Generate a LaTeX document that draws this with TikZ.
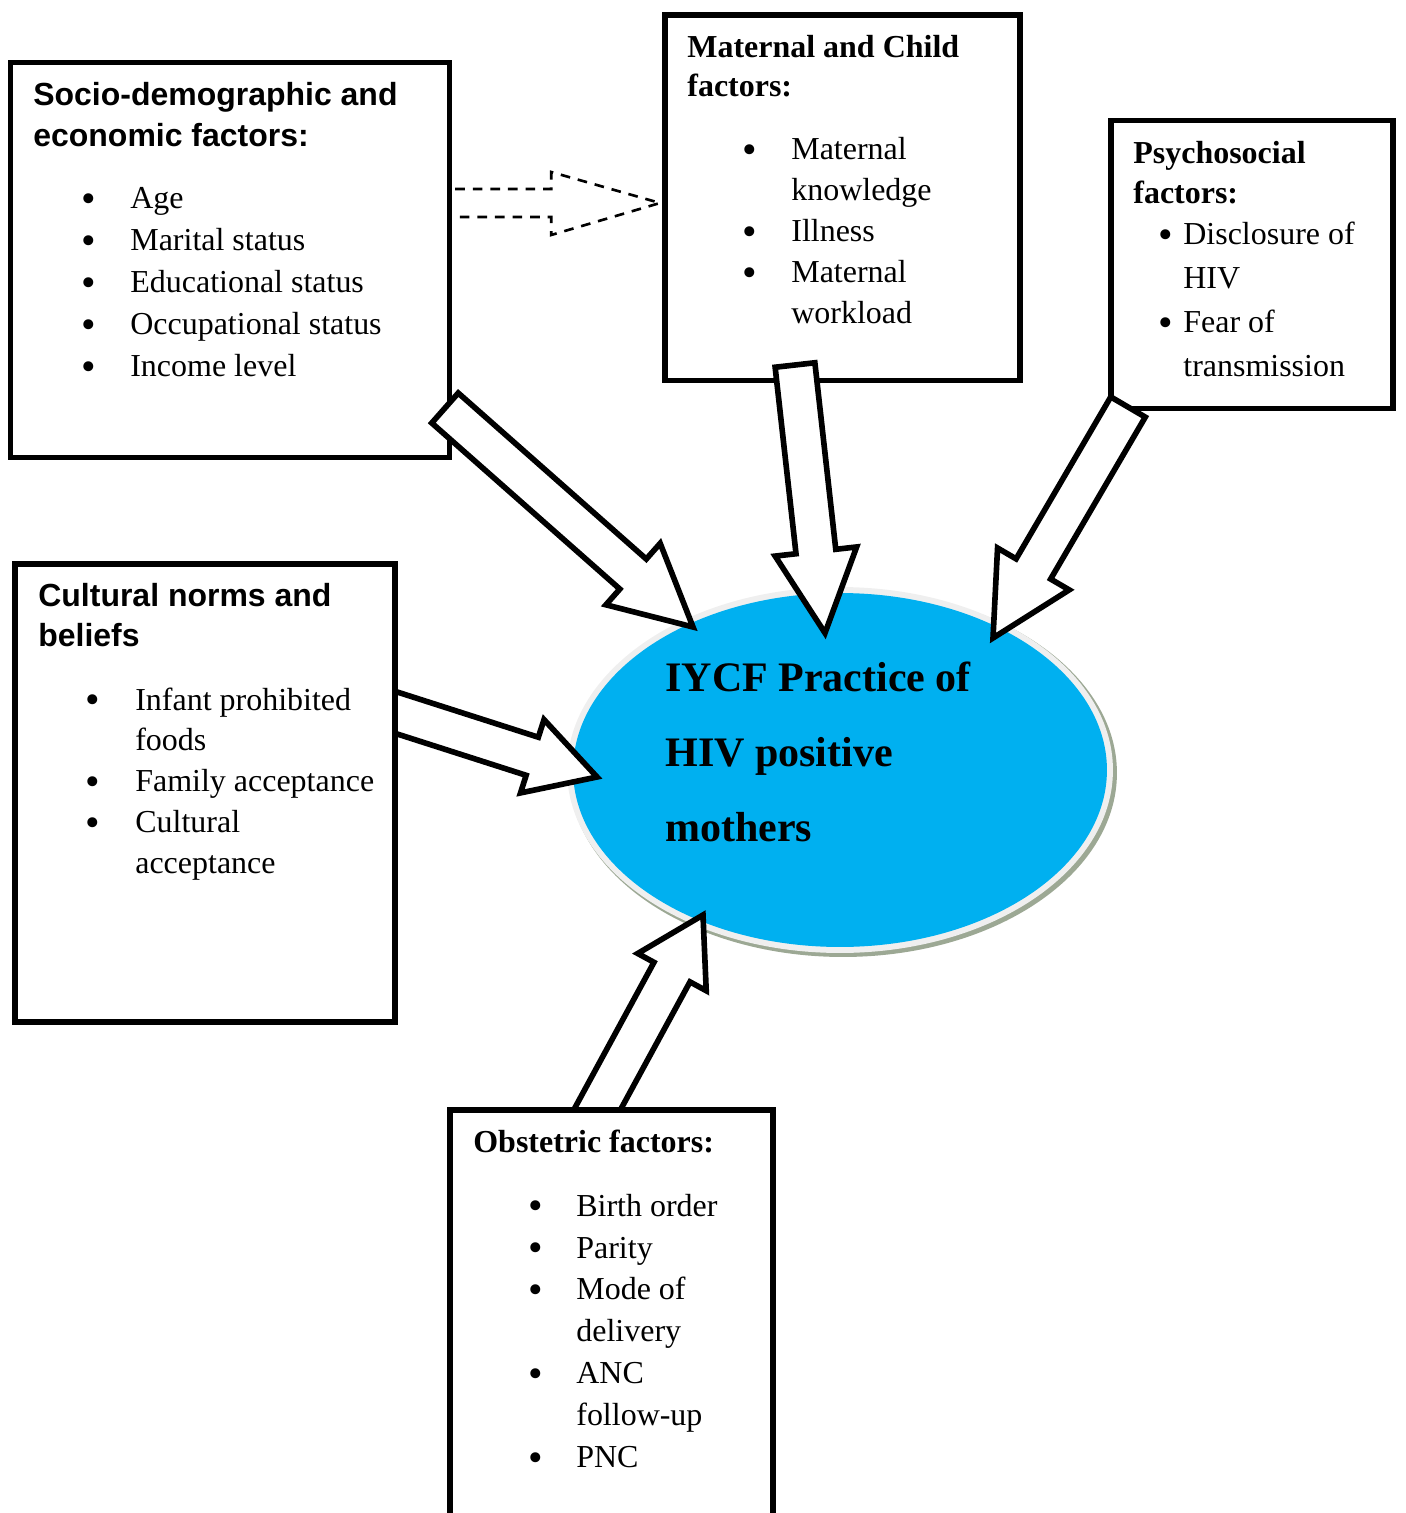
\documentclass[tikz,border=0pt]{standalone}
\usepackage{fontspec}
\setmainfont{Liberation Serif}
\setsansfont{Liberation Sans}
\usepackage{tikz}
\usetikzlibrary{calc, fit, positioning, shapes.geometric}

\definecolor{iycfblue}{HTML}{00B0F0}
\definecolor{rimgrey}{HTML}{EFEFEF}
\definecolor{rimshadow}{HTML}{9CA894}

\newcommand{\bul}{\raisebox{-0.12em}{\scalebox{1.3}{\textbullet}}}
\newcommand{\itm}[1]{\bul & #1\\}
\newcommand{\cnt}[1]{& #1\\}
\newcommand{\titlelines}[1]{\begin{tabular}[t]{@{}l@{}}#1\end{tabular}}
\newcommand{\factorlist}[2]{\begin{tabular}[t]{@{}p{#1}@{}l@{}}#2\end{tabular}}
\newcommand{\blockarrow}[5]{%
  \coordinate (hb) at ($(#2)!#5!(#1)$);
  \draw[block arrow] ($(#1)!#3!90:(#2)$) -- ($(hb)!#3!-90:(#1)$) -- ($(hb)!#4!-90:(#1)$) -- (#2)
    -- ($(hb)!#4!90:(#1)$) -- ($(hb)!#3!90:(#1)$) -- ($(#1)!#3!-90:(#2)$) -- cycle;}

\begin{document}
\begin{tikzpicture}[x=0.02cm, y=-0.02cm,
    factor box/.style={draw, line width=3.1pt, fill=white, inner sep=0pt},
    block arrow/.style={draw, line width=3.2pt, fill=white, miter limit=10},
    dash arrow/.style={draw, line width=1.5pt, dash pattern=on 5.5pt off 4.5pt},
    sans title/.style={inner sep=0pt, anchor=base west, font=\sffamily\bfseries\fontsize{18.2}{22.8}\selectfont},
    serif title/.style={inner sep=0pt, anchor=base west, font=\bfseries\fontsize{18.2}{22.2}\selectfont},
    list text/.style={inner sep=0pt, anchor=base west, font=\fontsize{18.2}{#1}\selectfont},
    list text/.default=23.9pt,
    core/.style={ellipse, inner sep=0pt}]

  \useasboundingbox (0,0) rectangle (1405,1513);
  \clip (0,0) rectangle (1405,1513);

  \node[core, fill=rimshadow, minimum width=10.96cm, minimum height=7.36cm] (iycf shadow) at (843,773) {};
  \node[core, fill=rimgrey, minimum width=10.92cm, minimum height=7.32cm] (iycf rim) at (840,770) {};
  \node[core, fill=iycfblue, minimum width=10.68cm, minimum height=7.08cm] (iycf) at (840,770) {};

  \coordinate (cultural tail) at (366,703);
  \coordinate (cultural tip) at (597,777);
  \coordinate (obstetric tail) at (578,1145);
  \coordinate (obstetric tip) at (703,915);
  \blockarrow{cultural tail}{cultural tip}{0.4cm}{0.77cm}{1.36cm}
  \blockarrow{obstetric tail}{obstetric tip}{0.41cm}{0.78cm}{1.3cm}

  \node[factor box, fit={(10.5,62.5) (449.5,457.5)}] (socio) {};
  \node[factor box, fit={(665,15) (1020,380.5)}] (maternal) {};
  \node[factor box, fit={(1111,120.5) (1393,408.5)}] (psycho) {};
  \node[factor box, fit={(15,564) (395,1022)}] (cultural) {};
  \node[factor box, fit={(450,1110) (773,1560)}] (obstetric) {};

  \coordinate (socio tail) at (445,408);
  \coordinate (socio tip) at (693,627);
  \coordinate (maternal tail) at (795,365);
  \coordinate (maternal tip) at (825,633);
  \coordinate (psycho tail) at (1128,407);
  \coordinate (psycho tip) at (993,638);
  \blockarrow{socio tail}{socio tip}{0.4cm}{0.82cm}{1.6cm}
  \blockarrow{maternal tail}{maternal tip}{0.4cm}{0.82cm}{1.64cm}
  \blockarrow{psycho tail}{psycho tip}{0.4cm}{0.83cm}{1.6cm}

  \coordinate (dash tail) at (socio.east |- 0,203);
  \coordinate (dash tip) at (660,203);
  \draw[dash arrow] ($(dash tail)+(3,-14)$) -- ++(96,0) -- ++(0,-17) -- (dash tip)
    -- ($(dash tail)+(99,32)$) -- ++(0,-18) -- ++(-96,0);

  \node[sans title] (socio title) at (33,106) {\titlelines{Socio-demographic and\\economic factors:}};
  \node[list text] (socio items) at (81,209) {\factorlist{0.98cm}{%
    \itm{Age}
    \itm{Marital status}
    \itm{Educational status}
    \itm{Occupational status}
    \itm{Income level}}};

  \node[serif title] (maternal title) at (687,58) {\titlelines{Maternal and Child\\factors:}};
  \node[list text=23.3pt] (maternal items) at (742,160) {\factorlist{0.98cm}{%
    \itm{Maternal}
    \cnt{knowledge}
    \itm{Illness}
    \itm{Maternal}
    \cnt{workload}}};

  \node[serif title] (psycho title) at (1133,164) {\titlelines{Psychosocial\\factors:}};
  \node[list text=25pt] (psycho items) at (1158,245) {\factorlist{0.5cm}{%
    \itm{Disclosure of}
    \cnt{HIV}
    \itm{Fear of}
    \cnt{transmission}}};

  \node[sans title] (cultural title) at (38,606) {\titlelines{Cultural norms and\\beliefs}};
  \node[list text=23.3pt] (cultural items) at (85,710) {\factorlist{1.0cm}{%
    \itm{Infant prohibited}
    \cnt{foods}
    \itm{Family acceptance}
    \itm{Cultural}
    \cnt{acceptance}}};

  \node[serif title] (obstetric title) at (473,1152) {Obstetric factors:};
  \node[list text] (obstetric items) at (528,1216) {\factorlist{0.96cm}{%
    \itm{Birth order}
    \itm{Parity}
    \itm{Mode of}
    \cnt{delivery}
    \itm{ANC}
    \cnt{follow-up}
    \itm{PNC}}};

  \node[inner sep=0pt, anchor=base west, font=\bfseries\fontsize{23.9}{42.7}\selectfont]
    (iycf label) at (665,691) {\titlelines{IYCF Practice of\\HIV positive\\mothers}};

\end{tikzpicture}
\end{document}
